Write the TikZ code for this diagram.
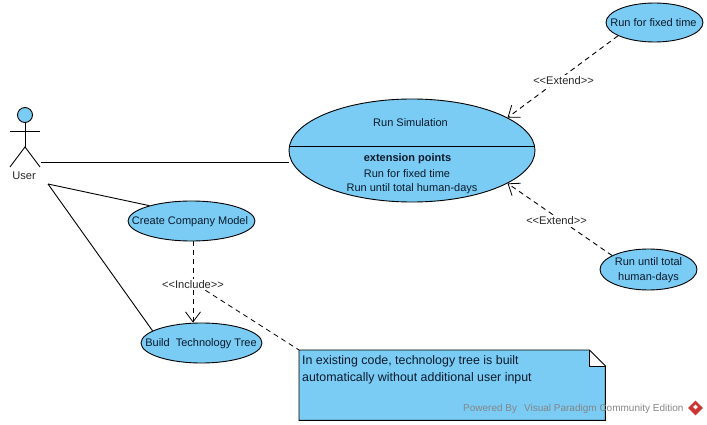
\documentclass[tikz,border=0pt]{standalone}
\usepackage{fontspec}
\setmainfont{Liberation Sans}
\usetikzlibrary{shapes.geometric,arrows.meta}
\definecolor{uc}{HTML}{7ACCF5}
\definecolor{ink}{HTML}{0A1A2A}
\definecolor{logored}{HTML}{CC3333}
\tikzset{
  usecase/.style={ellipse,draw=black,fill=uc,line width=0.9pt,inner sep=0pt},
  uctext/.style={inner sep=0pt,align=center,text=ink,font=\fontsize{11}{15}\selectfont},
  lbl/.style={inner sep=1.5pt,font=\fontsize{11.1}{13}\selectfont,text=black!85},
  gaplbl/.style={lbl,fill=white},
  assoc/.style={line width=0.9pt,draw=black},
  depend/.style={line width=0.9pt,draw=black,dash pattern=on 5pt off 4pt},
  barb/.style={-{Straight Barb[length=10pt,width=15pt,line width=0.8pt]}},
  notetxt/.style={inner sep=0pt,anchor=north west,align=left,text=ink,font=\fontsize{12.4}{16.5}\selectfont},
  plain/.style={uctext}
}
\begin{document}
\begin{tikzpicture}[x=1pt,y=-1pt]
\useasboundingbox (0,0) rectangle (707,425);
% actor
\node[circle,draw=black,fill=uc,line width=0.9pt,minimum size=15pt,inner sep=0pt] (head) at (25,115) {};
\coordinate (hip) at (25,147);
\coordinate (handL) at (10,131);
\coordinate (handR) at (40,131);
\coordinate (footL) at (10,167);
\coordinate (footR) at (40,167);
\draw[assoc] (head.south) -- (hip);
\draw[assoc] (handL) -- (handR);
\draw[assoc] (footL) -- (hip) -- (footR);
\node[lbl,inner sep=0pt] (user) at (24,175.5) {User};
\coordinate (userA) at (41,162);
\coordinate (userB) at (48,184);
% use cases
\node[usecase,minimum width=246pt,minimum height=103pt] (sim) at (412,150.5) {};
\draw[assoc] (sim.178) -- (sim.2);
\node[plain] (simT) at (410.5,122.5) {Run Simulation};
\node[plain,font=\fontsize{11}{13}\selectfont\bfseries] (ext) at (407.5,159) {extension points};
\node[plain] (ext1) at (407,173.5) {Run for fixed time};
\node[plain] (ext2) at (412,188.5) {Run until total human-days};
\node[usecase,minimum width=97pt,minimum height=39pt] (fixed) at (654.5,22.5) {};
\node[uctext] (fixedT) at (653.5,22.5) {Run for fixed time};
\node[usecase,minimum width=97pt,minimum height=41pt] (until) at (648.5,269.5) {};
\node[uctext] (untilT) at (648.5,270.5) {Run until total\\human-days};
\node[usecase,minimum width=127pt,minimum height=40pt] (create) at (191.5,221) {};
\node[uctext] (createT) at (190,221.5) {Create Company Model};
\node[usecase,minimum width=121pt,minimum height=40pt] (build) at (201.5,343) {};
\node[uctext] (buildT) at (201,343.5) {Build\hspace{6pt}Technology Tree};
% associations
\draw[assoc] (userA) -- (userA -| sim.west);
\draw[assoc] (userB) -- (create.160);
\draw[assoc] (userB) -- (build.166);
% note
\node[minimum width=306pt,minimum height=70pt,inner sep=0pt,anchor=north west] (note) at (299,350) {};
\coordinate (foldA) at ([xshift=-16pt]note.north east);
\coordinate (foldB) at ([yshift=-16pt]note.north east);
\coordinate (foldC) at (foldA |- foldB);
\fill[uc] (note.north west) -- (foldA) -- (foldB) -- (note.south east) -- (note.south west) -- cycle;
\fill[white] (foldA) -- (foldB) -- (foldC) -- cycle;
\draw[line width=0.9pt,line join=miter] (note.north west) -- (foldA) -- (foldB) -- (note.south east) -- (note.south west) -- cycle;
\draw[line width=0.7pt] (foldA) -- (foldC) -- (foldB);
\node[notetxt] (notetext) at (302,355.5) {In existing code, technology tree is built\\automatically without additional user input};
% dependencies
\draw[depend,barb] (fixed.200) -- (sim.19);
\node[gaplbl] (extA) at (563.5,81) {<{}<Extend>{}>};
\draw[depend,barb] (until.159) -- (sim.-19);
\node[gaplbl] (extB) at (556.5,221) {<{}<Extend>{}>};
\node[gaplbl] (inc) at (193,284.5) {<{}<Include>{}>};
\draw[depend] (create.south -| inc) -- (inc.north);
\draw[depend,barb] (inc.south) -- (inc.south |- build.north);
\draw[depend,line width=0.8pt] (inc.-25) -- (note.north west);
% watermark
\node[inner sep=0pt,anchor=west,text=black!48,font=\fontsize{10}{12}\selectfont] (mark) at (463,408.5) {Powered By\hspace{7pt}Visual Paradigm Community Edition};
\node[diamond,fill=logored,minimum size=15pt,inner sep=0pt] (logo) at (695.5,408) {};
\node[diamond,fill=white,minimum size=5pt,inner sep=0pt] (logoin) at (695.5,407) {};
\end{tikzpicture}
\end{document}
